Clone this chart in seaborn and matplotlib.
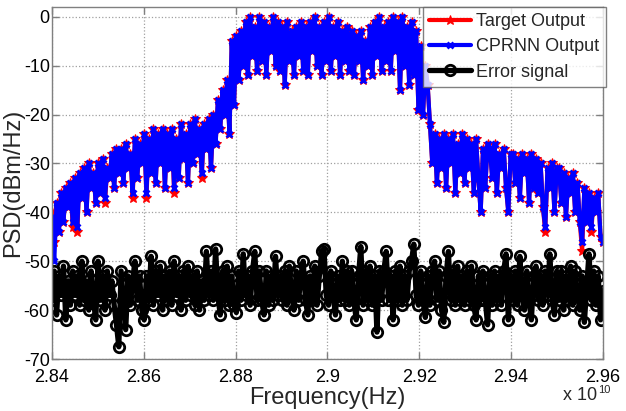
import numpy as np
import pandas as pd
import matplotlib
matplotlib.use("Agg")
import matplotlib.pyplot as plt
from matplotlib.ticker import FuncFormatter
import seaborn as sns

# ---------------- data ----------------
f_start, f_stop = 2.84e10, 2.96e10

target = [
    -40, -46, -38, -44, -36, -42, -35, -39, -34, -43,
    -33, -44, -32, -37, -31, -40, -30, -35, -32, -38,
    -30, -36, -29, -38, -31, -33, -28, -35, -27, -32,
    -27, -34, -26, -31, -28, -37, -25, -33, -26, -30,
    -24, -37, -25, -32, -23, -34, -24, -30, -23, -35,
    -24, -31, -23, -36, -25, -33, -22, -29, -24, -34,
    -22, -30, -21, -28, -23, -33, -22, -27, -21, -31,
    -20, -26, -17, -23, -15, -20, -13, -24, -5, -18,
    -4, -13, -3, -10, -1, -12, 0, -8, -2, -11,
    0, -9, -1, -12, -2, -7, 0, -10, -1, -11,
    -2, -14, -1, -9, -3, -12, -2, -8, -1, -11,
    -2, -12, -1, -7, 0, -10, -2, -12, -1, -9,
    0, -11, -2, -8, -1, -12, -3, -9, -2, -11,
    -3, -12, -4, -9, -3, -13, -5, -10, -2, -12,
    -1, -8, 0, -11, -2, -9, -1, -11, 0, -7,
    -1, -15, 0, -10, -2, -14, -1, -12, -3, -19,
    -6, -20, -10, -14, -22, -30, -24, -34, -25, -31,
    -24, -35, -25, -30, -24, -36, -26, -32, -24, -34,
    -25, -31, -26, -36, -25, -33, -40, -27, -35, -26,
    -27, -33, -26, -36, -28, -31, -27, -35, -40, -28,
    -28, -34, -29, -37, -28, -32, -29, -38, -28, -35,
    -29, -36, -30, -39, -44, -31, -35, -30, -40, -31,
    -31, -38, -32, -41, -33, -36, -32, -40, -34, -42,
    -48, -35, -42, -36, -44, -37, -40, -36, -45, -46,
]

cprnn = [
    -41, -50, -38, -44, -36, -42, -35, -39, -34, -42,
    -33, -43, -32, -37, -31, -40, -30, -35, -32, -38,
    -30, -36, -29, -37, -31, -33, -28, -35, -27, -32,
    -27, -34, -26, -31, -28, -36, -25, -33, -26, -30,
    -24, -36, -25, -32, -23, -34, -24, -30, -23, -35,
    -24, -31, -23, -35, -25, -33, -22, -29, -24, -34,
    -22, -30, -21, -28, -23, -32, -22, -27, -21, -31,
    -20, -26, -17, -23, -15, -20, -13, -24, -5, -18,
    -4, -13, -3, -10, -1, -12, 0, -8, -2, -11,
    0, -9, -1, -12, -2, -7, 0, -10, -1, -11,
    -2, -14, -1, -9, -3, -12, -2, -8, -1, -11,
    -2, -12, -1, -7, 0, -10, -2, -12, -1, -9,
    0, -11, -2, -8, -1, -12, -3, -9, -2, -11,
    -3, -12, -4, -9, -3, -13, -5, -10, -2, -12,
    -1, -8, 0, -11, -2, -9, -1, -11, 0, -7,
    -1, -15, 0, -10, -2, -14, -1, -12, -3, -19,
    -6, -20, -10, -14, -22, -30, -24, -34, -25, -31,
    -24, -35, -25, -30, -24, -36, -26, -32, -24, -34,
    -25, -31, -26, -36, -25, -33, -40, -27, -35, -26,
    -27, -33, -26, -36, -28, -31, -27, -35, -40, -28,
    -28, -34, -29, -37, -28, -32, -29, -38, -28, -35,
    -29, -36, -30, -39, -43, -31, -35, -30, -40, -31,
    -31, -38, -32, -41, -33, -36, -32, -40, -34, -42,
    -46, -35, -42, -36, -43, -37, -40, -36, -45, -46,
]

error = [
    -58, -52, -61, -53, -57, -51, -62, -54, -59, -52,
    -57, -53, -59, -50, -58, -54, -60, -52, -58, -62,
    -50, -58, -53, -60, -52, -57, -54, -59, -63, -67.5,
    -52, -58, -64, -53, -59, -54, -50, -58, -53, -60,
    -62, -53, -58, -49, -59, -52, -57, -51, -60, -53,
    -58, -52, -59, -50, -57, -53, -60, -52, -58, -51,
    -57, -53, -59, -52, -60, -54, -58, -48, -57, -52,
    -58, -47.5, -57, -61, -52, -58, -51, -59, -53, -59,
    -60.5, -52, -58, -48.5, -57, -53, -59, -52, -48, -58,
    -52, -58, -61, -52, -59, -53, -58, -49, -57, -53,
    -58, -52, -59, -51, -57, -60, -52, -58, -53, -50,
    -58, -61, -53, -58, -51, -59, -53, -48, -47.5, -57,
    -59, -52, -57, -61, -53, -58, -50, -58, -52, -59,
    -52, -58, -62, -53, -47, -59, -52, -58, -51, -59,
    -53, -64.5, -52, -58, -52, -48, -58, -53, -62, -52,
    -58, -51, -59, -53, -58, -52, -50, -46.5, -57, -59,
    -52, -58, -61.5, -53, -59, -52, -50, -58, -52, -60,
    -62.5, -53, -48, -58, -52, -59, -51, -58, -53, -59,
    -52, -58, -51, -59, -62, -53, -58, -52, -58, -63,
    -53, -59, -52, -58, -53, -59, -52, -48.5, -62, -53,
    -58, -52, -59, -49, -57, -60, -52, -58, -62, -53,
    -51, -58, -53, -59, -52, -57, -48.5, -58, -61, -52,
    -58, -52, -60, -53, -58, -51, -59, -52, -57, -60,
    -53, -62.5, -55, -48.5, -58, -52, -59, -53, -62, -56,
]

series_names = ["Target Output", "CPRNN Output", "Error signal"]
x_ticks = [2.84e10, 2.86e10, 2.88e10, 2.90e10, 2.92e10, 2.94e10, 2.96e10]
y_ticks = [0, -10, -20, -30, -40, -50, -60, -70]

# ---------------- frames ----------------
df_t = pd.DataFrame({"freq": np.linspace(f_start, f_stop, len(target)), "psd": target})
df_c = pd.DataFrame({"freq": np.linspace(f_start, f_stop, len(cprnn)), "psd": cprnn})
df_e = pd.DataFrame({"freq": np.linspace(f_start, f_stop, len(error)), "psd": error})

# ---------------- style ----------------
sns.set_style("white")
plt.rcParams["font.family"] = ["Liberation Sans", "DejaVu Sans"]

fig = plt.figure(figsize=(6.26, 4.11), dpi=100)
ax = fig.add_axes([0.083, 0.1265, 0.880, 0.8565])

sns.lineplot(data=df_t, x="freq", y="psd", ax=ax, color="red", sort=False,
             estimator=None, lw=3.0, marker="*", markersize=7.5,
             markeredgecolor="red", markerfacecolor="red", label=series_names[0])
sns.lineplot(data=df_c, x="freq", y="psd", ax=ax, color="blue", sort=False,
             estimator=None, lw=3.0, marker="x", markersize=5, markeredgewidth=2,
             markeredgecolor="blue", label=series_names[1])
sns.lineplot(data=df_e, x="freq", y="psd", ax=ax, color="black", sort=False,
             estimator=None, lw=3.8, marker="o", markersize=7.5, markeredgewidth=2,
             markeredgecolor="black", markerfacecolor="none", label=series_names[2])

ax.set_xlim(f_start, f_stop)
ax.set_ylim(-70, 2)
ax.set_xticks(x_ticks)
ax.set_yticks(y_ticks)
ax.xaxis.set_major_formatter(FuncFormatter(lambda v, p: "%g" % (v / 1e10)))
ax.yaxis.set_major_formatter(FuncFormatter(lambda v, p: "%d" % v))
ax.tick_params(direction="in", length=5, width=1, colors="#808080",
               labelcolor="black", labelsize=13, top=True, right=True,
               bottom=True, left=True)
ax.tick_params(axis="x", pad=7)
ax.tick_params(axis="y", pad=1.5)
ax.grid(True, linestyle=":", color="#a0a0a0", linewidth=0.9)
for s in ax.spines.values():
    s.set_color("#808080")
    s.set_linewidth(1.0)

ax.set_xlabel("Frequency(Hz)", fontsize=17, labelpad=1)
ax.set_ylabel("PSD(dBm/Hz)", fontsize=17)
ax.yaxis.set_label_coords(-0.050, 0.5)

fig.text(563 / 626, 1 - 395 / 411, "x 10", fontsize=13, va="center", ha="left")
fig.text(598 / 626, 1 - 390 / 411, "10", fontsize=8, va="center", ha="left")

leg = ax.legend(loc="upper right", bbox_to_anchor=(1.005, 1.0), borderaxespad=0,
                fontsize=13, frameon=True, fancybox=False, handlelength=2.3,
                handletextpad=0.3, borderpad=0.35, labelspacing=0.45)
leg.get_frame().set_edgecolor("#606060")
leg.get_frame().set_linewidth(1.0)

fig.savefig("out.png", dpi=100)
